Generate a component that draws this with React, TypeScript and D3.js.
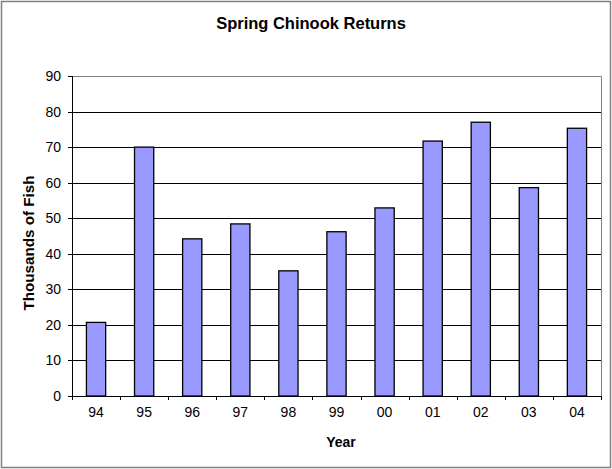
import React, { useRef, useEffect } from "react";
import * as d3 from "d3";

const years = ["94", "95", "96", "97", "98", "99", "00", "01", "02", "03", "04"];
const returns = [20.7, 70, 44.2, 48.4, 35.2, 46.2, 52.9, 71.7, 77, 58.6, 75.3];
const yTicks = [0, 10, 20, 30, 40, 50, 60, 70, 80, 90];

export default function App() {
  const ref = useRef<SVGSVGElement>(null);

  useEffect(() => {
    const width = 612;
    const height = 469;
    const left = 72;
    const right = 601;
    const top = 76;
    const bottom = 396;
    const font = "Liberation Sans, Arial, sans-serif";
    const svg = d3.select(ref.current);
    svg.selectAll("*").remove();
    svg.attr("width", width).attr("height", height);

    // chart area frame
    svg
      .append("rect")
      .attr("x", 1.5)
      .attr("y", 1.5)
      .attr("width", width - 3)
      .attr("height", height - 3)
      .attr("fill", "#fff")
      .attr("stroke", "#808080")
      .attr("stroke-width", 1.5);

    const x = d3.scaleBand().domain(years).range([left, right]).paddingInner(0.6).paddingOuter(0.3);
    const band = d3.scaleBand().domain(years).range([left, right]);
    const y = d3.scaleLinear().domain([0, 90]).range([bottom, top]);

    // gridlines
    svg
      .append("g")
      .selectAll("line")
      .data(yTicks.filter((t) => t > 0 && t < 90))
      .join("line")
      .attr("x1", left)
      .attr("x2", right)
      .attr("y1", (d) => Math.round(y(d)) + 0.5)
      .attr("y2", (d) => Math.round(y(d)) + 0.5)
      .attr("stroke", "#000");

    // plot border top/right
    svg
      .append("path")
      .attr("d", `M${left},${top + 0.5}H${right + 0.5}V${bottom}`)
      .attr("fill", "none")
      .attr("stroke", "#808080");

    // bars
    svg
      .append("g")
      .selectAll("rect")
      .data(returns)
      .join("rect")
      .attr("x", (d, i) => x(years[i])!)
      .attr("width", x.bandwidth())
      .attr("y", (d) => y(d))
      .attr("height", (d) => bottom - y(d))
      .attr("fill", "#9999FF")
      .attr("stroke", "#000")
      .attr("stroke-width", 1.3);

    // y axis
    const ya = svg.append("g").attr("font-family", font).attr("font-size", 14);
    ya.append("line")
      .attr("x1", left + 0.5)
      .attr("x2", left + 0.5)
      .attr("y1", top)
      .attr("y2", bottom)
      .attr("stroke", "#000");
    ya.selectAll("line.tick")
      .data(yTicks)
      .join("line")
      .attr("class", "tick")
      .attr("x1", left - 4)
      .attr("x2", left)
      .attr("y1", (d) => Math.round(y(d)) + 0.5)
      .attr("y2", (d) => Math.round(y(d)) + 0.5)
      .attr("stroke", "#000");
    ya.selectAll("text")
      .data(yTicks)
      .join("text")
      .attr("x", left - 11)
      .attr("y", (d) => y(d))
      .attr("dy", "0.36em")
      .attr("text-anchor", "end")
      .text((d) => d);

    // x axis
    const xa = svg.append("g").attr("font-family", font).attr("font-size", 14);
    xa.append("line")
      .attr("x1", left)
      .attr("x2", right + 1)
      .attr("y1", bottom + 0.5)
      .attr("y2", bottom + 0.5)
      .attr("stroke", "#000");
    xa.selectAll("line.tick")
      .data([...years.map((d) => band(d)!), right])
      .join("line")
      .attr("class", "tick")
      .attr("x1", (d) => Math.round(d) + 0.5)
      .attr("x2", (d) => Math.round(d) + 0.5)
      .attr("y1", bottom)
      .attr("y2", bottom + 4)
      .attr("stroke", "#000");
    xa.selectAll("text")
      .data(years)
      .join("text")
      .attr("x", (d) => band(d)! + band.bandwidth() / 2)
      .attr("y", 417)
      .attr("text-anchor", "middle")
      .text((d) => d);

    const bold = svg
      .append("g")
      .attr("font-family", font)
      .attr("font-weight", "bold")
      .attr("font-size", 14);
    bold
      .append("text")
      .attr("x", 311)
      .attr("y", 29)
      .attr("text-anchor", "middle")
      .attr("font-size", 16.5)
      .text("Spring Chinook Returns");
    bold
      .append("text")
      .attr("x", 341)
      .attr("y", 447)
      .attr("text-anchor", "middle")
      .text("Year");
    bold
      .append("text")
      .attr("transform", `translate(33.5,243) rotate(-90)`)
      .attr("text-anchor", "middle")
      .attr("font-size", 15.2)
      .text("Thousands of Fish");
  }, []);

  return (
    <div style={{ position: "absolute", left: 0, top: 0 }}>
      <svg ref={ref} style={{ display: "block" }} />
    </div>
  );
}
